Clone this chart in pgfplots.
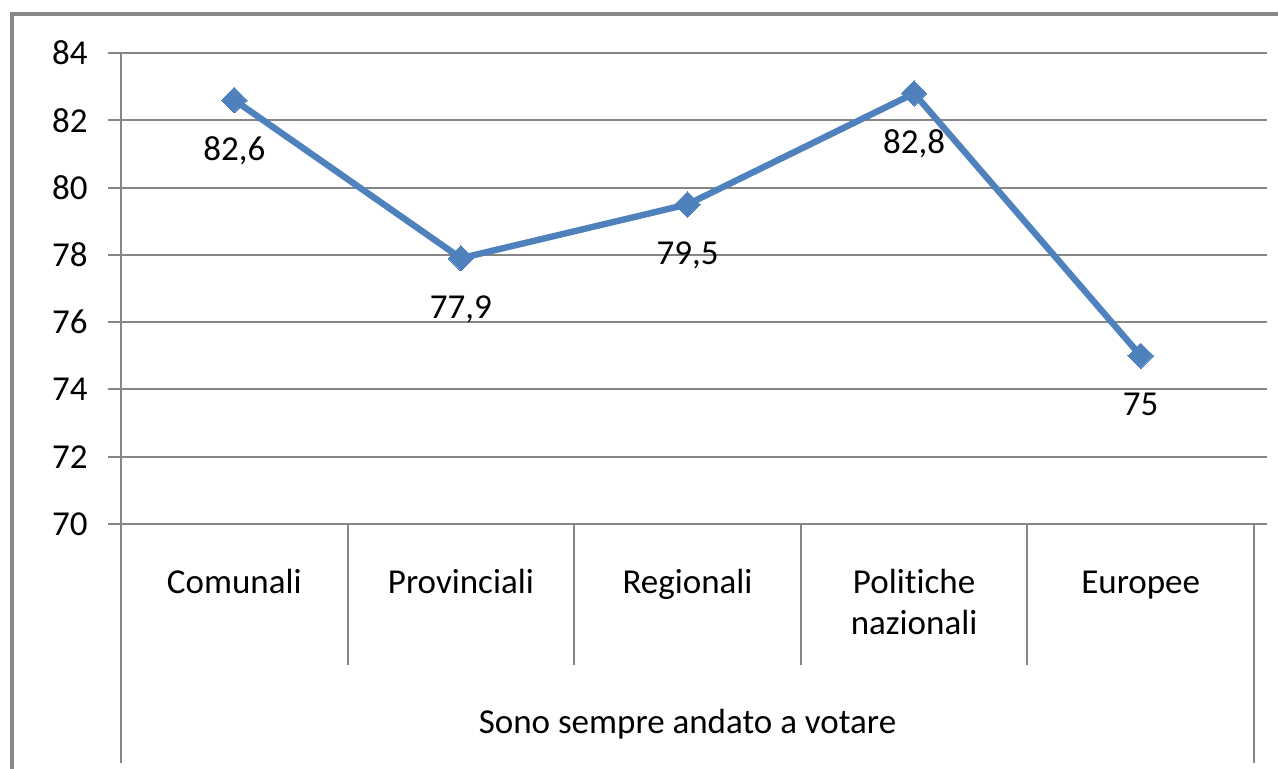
\documentclass[border=0pt]{standalone}
\usepackage{fontspec}
\setmainfont{Carlito}[Ligatures={NoCommon,NoContextual}]
\usepackage{pgfplots}
\pgfplotsset{compat=1.18}
\definecolor{serie}{HTML}{4F81BD}
\definecolor{gridc}{RGB}{134,134,134}
\definecolor{framec}{RGB}{136,136,136}
\newcommand{\st}{\rule{0pt}{13pt}}
\begin{document}
\fontsize{17.5pt}{20.5pt}\selectfont
\begin{tikzpicture}
\path[use as bounding box] (-60.5pt,-122.5pt) rectangle (578.5pt,262pt);
\begin{scope}
\clip (-60.5pt,-122.5pt) rectangle (578.5pt,262pt);
\draw[framec, line width=1.6pt] (-54.5pt,-130pt) -- (-54.5pt,255pt) -- (590pt,255pt);
\end{scope}
\begin{axis}[
  at={(0,0)}, anchor=south west,
  scale only axis, width=566.5pt, height=235.5pt,
  xmin=-0.5, xmax=4.5, ymin=70, ymax=84,
  ytick={70,72,...,84},
  xtick={0,...,4},
  xticklabels={\st Comunali, \st Provinciali, \st Regionali, \st Polit\kern0pt iche\\nazionali, \st Europee},
  axis line style={draw=none},
  ymajorgrids,
  grid style={gridc, line width=1pt},
  major tick length=6.5pt,
  tick align=outside,
  ytick style={gridc, line width=1pt},
  xtick style={draw=none},
  /pgf/number format/assume math mode=true,
  yticklabel style={inner sep=0pt, anchor=east, xshift=-10pt},
  xticklabel style={align=center, anchor=north, inner sep=0pt, yshift=-15pt},
  xlabel={Sono sempre andato a votare},
  xlabel style={at={(axis description cs:0.5,0)}, anchor=base, inner sep=0pt, yshift=-104.5pt},
  clip=false,
  nodes near coords,
  point meta=explicit symbolic,
  every node near coord/.append style={anchor=base, inner sep=0pt, yshift=-30pt, text=black},
]
\addplot[serie, line width=3.2pt, mark=square*, mark size=4.5pt,
  mark options={rotate=45, fill=serie, draw=serie, line width=0pt}]
  coordinates {(0,82.6) [{82,6}] (1,77.9) [{77,9}] (2,79.5) [{79,5}] (3,82.8) [{82,8}] (4,75) [75]};
\draw[gridc, line width=1pt] (axis cs:-0.5,84) -- ++(0pt,-355pt);
\draw[gridc, line width=1pt] (axis cs:4.5,70) -- ++(0pt,-119.5pt);
\draw[gridc, line width=1pt] (axis cs:0.5,70) -- ++(0pt,-70.5pt);
\draw[gridc, line width=1pt] (axis cs:1.5,70) -- ++(0pt,-70.5pt);
\draw[gridc, line width=1pt] (axis cs:2.5,70) -- ++(0pt,-70.5pt);
\draw[gridc, line width=1pt] (axis cs:3.5,70) -- ++(0pt,-70.5pt);
\end{axis}
\end{tikzpicture}
\end{document}
